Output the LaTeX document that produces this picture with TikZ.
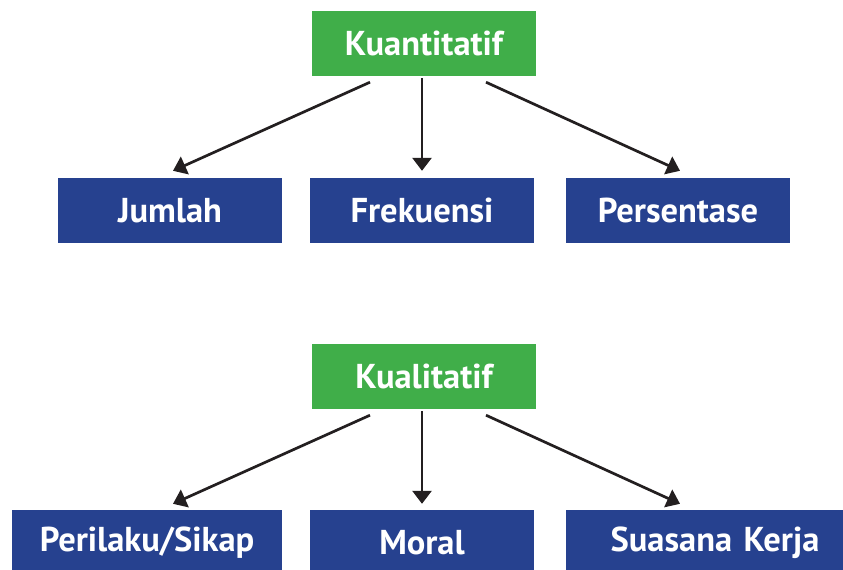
\documentclass[tikz,border=0pt]{standalone}
\usepackage{fontspec}
\setmainfont{PT Sans}
\usetikzlibrary{arrows.meta,calc}
\definecolor{gbox}{RGB}{64,174,73}
\definecolor{bbox}{RGB}{38,65,143}
\definecolor{arr}{RGB}{35,31,32}
\tikzset{
  greenbox/.style={fill=gbox, text=white, minimum width=224pt, minimum height=65pt, inner sep=0pt, font=\bfseries\fontsize{34.5}{38}\selectfont},
  bluebox/.style={fill=bbox, text=white, minimum height=65pt, inner sep=0pt, font=\bfseries\fontsize{34.5}{38}\selectfont},
  conn/.style={draw=arr, line width=2.7pt, -{Triangle[length=13pt,width=19pt]}}
}
\begin{document}
\begin{tikzpicture}[x=1pt,y=-1pt]
\useasboundingbox (0,0) rectangle (843,570);
% top group
\node[greenbox] (k1) at (424,43.5) {Kuantitatif};
\node[bluebox, minimum width=224pt] (j) at (170,210.5) {Jumlah};
\node[bluebox, minimum width=224pt] (f) at (422,210.5) {Frekuensi};
\node[bluebox, minimum width=224pt] (p) at (678,210.5) {Persentase};
\draw[conn] ($(k1.south)+(-54,6)$) -- ($(j.north)+(3,-7)$);
\draw[conn] ($(k1.south)+(-2,2)$) -- ($(f.north)+(0,-7)$);
\draw[conn] ($(k1.south)+(62,6)$) -- ($(p.north)+(2,-7)$);
% bottom group
\node[greenbox] (k2) at (424,376.5) {Kualitatif};
\node[bluebox, minimum width=270pt] (ps) at (147,542.5) {Perilaku/Sikap};
\node[bluebox, minimum width=224pt] (m) at (422,542.5) {Moral};
\node[bluebox, minimum width=298pt, text width=298pt, align=center] (s) at (715,542.5) {Suasana Kerja};
\draw[conn] ($(k2.south)+(-54,6)$) -- ($(ps.north)+(26,-6)$);
\draw[conn] ($(k2.south)+(-2,2)$) -- ($(m.north)+(0,-6)$);
\draw[conn] ($(k2.south)+(62,6)$) -- ($(s.north)+(-35,-6)$);
\end{tikzpicture}
\end{document}
